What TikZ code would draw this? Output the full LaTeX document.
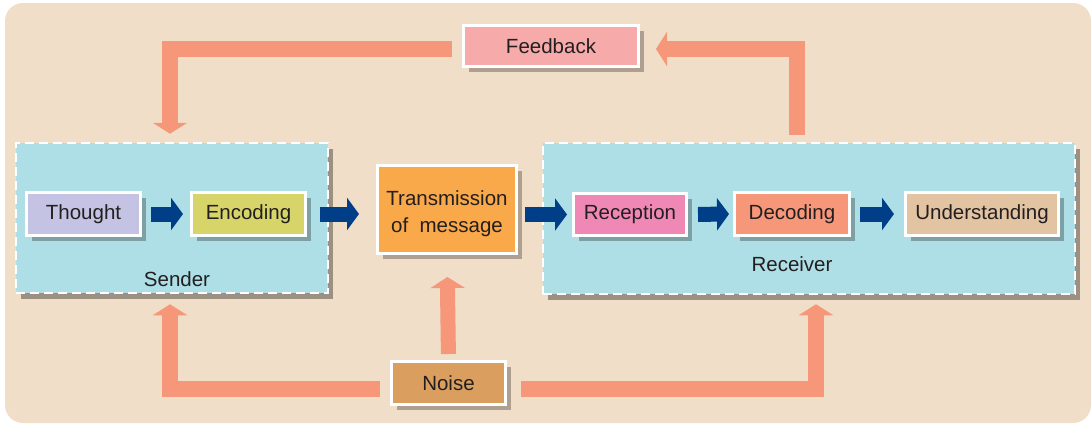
\documentclass[tikz,border=0pt]{standalone}
\usepackage{fontspec}
\setmainfont{Liberation Sans}
\usetikzlibrary{arrows.meta,shadows}
\definecolor{bgc}{HTML}{F0DEC9}
\definecolor{zonec}{HTML}{AEDFE6}
\definecolor{thoughtc}{HTML}{C4C3E3}
\definecolor{encc}{HTML}{D7D46A}
\definecolor{transc}{HTML}{F9A84A}
\definecolor{recc}{HTML}{F088B6}
\definecolor{decc}{HTML}{F6977A}
\definecolor{undc}{HTML}{E2C3A2}
\definecolor{fbc}{HTML}{F6AAAA}
\definecolor{noisec}{HTML}{DA9E5E}
\definecolor{salmonc}{HTML}{F6977A}
\definecolor{bluec}{HTML}{003F87}
\definecolor{txtc}{HTML}{231F20}
\tikzset{
  stepbox/.style={draw=white, line width=3pt, text=txtc, inner sep=0pt, align=center,
    drop shadow={shadow xshift=5pt, shadow yshift=-5pt, fill=black, opacity=0.28}},
  zone/.style={fill=zonec, draw=white, line width=2.5pt, dash pattern=on 9pt off 5pt,
    drop shadow={shadow xshift=5pt, shadow yshift=-6pt, fill=black, opacity=0.35}},
  bluearrow/.style={draw=bluec, line width=15pt, line cap=butt,
    -{Triangle[width=32pt,length=12pt]}},
  salmonarrow/.style={draw=salmonc, line width=16pt, line cap=butt, line join=miter,
    -{Triangle[width=34pt,length=11pt]}},
  lbl/.style={text=txtc, inner sep=0pt, align=center}
}
\begin{document}
\begin{tikzpicture}[x=1pt,y=-1pt, font=\fontsize{20.5}{27}\selectfont]
\useasboundingbox (0,0) rectangle (1092,423);
\fill[bgc, rounded corners=18pt] (5,3) rectangle (1091,423);

% zones
\node[zone, minimum width=312pt, minimum height=150pt] (sender) at (172,218) {};
\node[zone, minimum width=532pt, minimum height=151pt] (receiver) at (809,218.5) {};
\node[lbl] (senderlbl) at (177,279) {Sender};
\node[lbl] (receiverlbl) at (792,264) {Receiver};

% boxes
\node[stepbox, fill=thoughtc, minimum width=114pt, minimum height=43pt] (thought) at (83.5,214) {Thought};
\node[stepbox, fill=encc, minimum width=114pt, minimum height=43pt] (enc) at (248.5,214) {Encoding};
\node[stepbox, fill=transc, minimum width=139pt, minimum height=88pt] (trans) at (447,209.5) {};
\node[lbl] (transtxt) at (447,214) {Transmission\\of~~message};
\node[stepbox, fill=recc, minimum width=113pt, minimum height=42pt] (rec) at (630,214.5) {Reception};
\node[stepbox, fill=decc, minimum width=115pt, minimum height=43pt] (dec) at (792,214) {Decoding};
\node[stepbox, fill=undc, minimum width=153pt, minimum height=43pt] (und) at (982,214) {Understanding};
\node[stepbox, fill=fbc, minimum width=175pt, minimum height=41pt] (fb) at (551,46) {Feedback};
\node[stepbox, fill=noisec, minimum width=114pt, minimum height=43pt] (noise) at (448.5,383) {Noise};

% blue arrows
\draw[bluearrow, shorten <=9pt, shorten >=7pt] (thought.east) -- (enc.west);
\draw[bluearrow, shorten <=13pt, shorten >=17pt] (enc.east) -- (trans.west |- enc.east);
\draw[bluearrow, shorten <=7pt, shorten >=5pt] (trans.east |- rec.west) -- (rec.west);
\draw[bluearrow, shorten <=10pt, shorten >=4pt] (rec.east) -- (dec.west);
\draw[bluearrow, shorten <=9pt, shorten >=10pt] (dec.east) -- (und.west);

% feedback arrows
\draw[salmonarrow, shorten <=10pt, shorten >=8pt] ([yshift=-3pt]fb.west) -| ([xshift=-2pt]sender.north);
\draw[salmonarrow, shorten <=7pt, shorten >=16pt] ([xshift=-12pt]receiver.north) |- ([yshift=-3pt]fb.east);

% noise arrows
\draw[salmonarrow, shorten <=10pt, shorten >=10pt] ([yshift=-6pt]noise.west) -| ([xshift=-2pt]sender.south);
\draw[salmonarrow, line width=15pt, shorten <=6pt, shorten >=22pt] (noise.north) -- (trans.south);
\draw[salmonarrow, shorten <=14pt, shorten >=9pt] ([yshift=-6pt]noise.east) -| ([xshift=7pt]receiver.south);
\end{tikzpicture}
\end{document}
